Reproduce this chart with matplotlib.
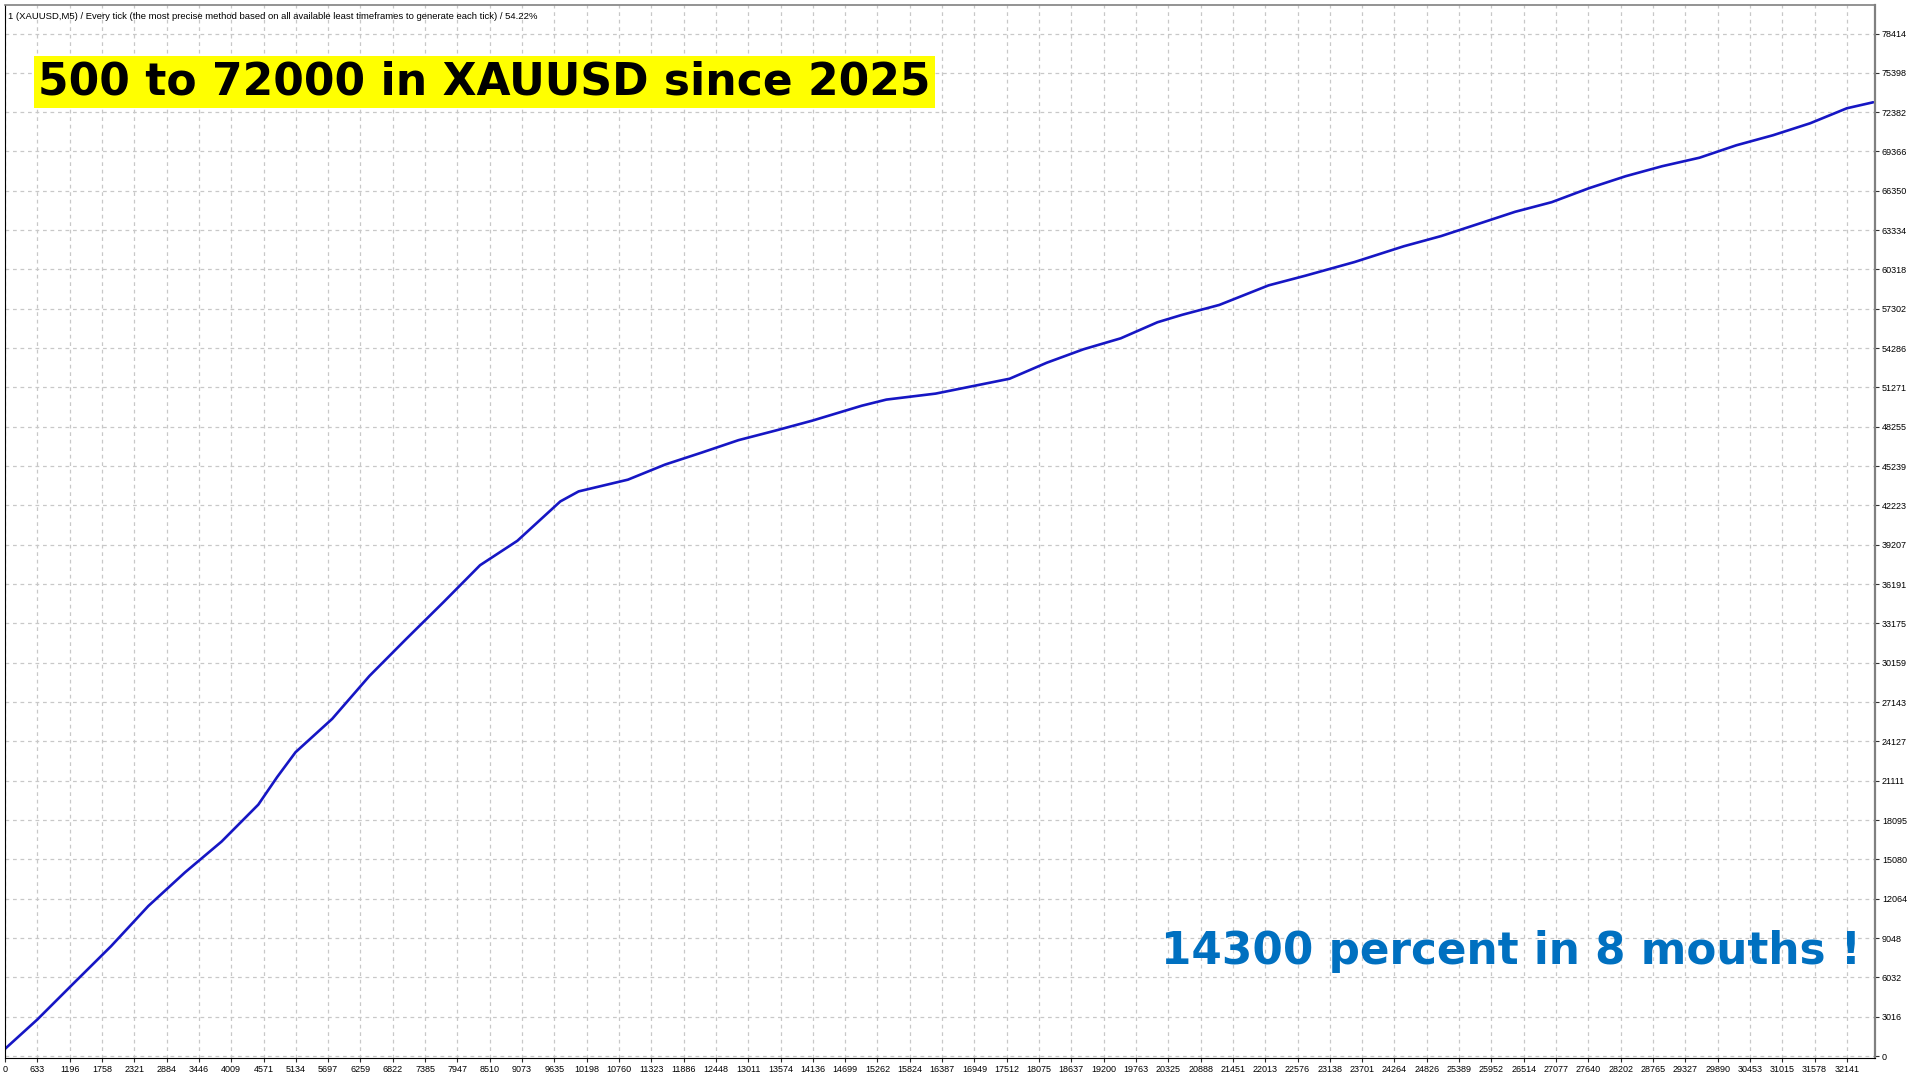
import numpy as np
import matplotlib.pyplot as plt

## Data (trade number vs balance)
trades = [0, 560, 1200, 1850, 2500, 3140, 3780, 4420, 4750, 5070, 5710, 6360,
          7000, 7650, 8290, 8940, 9690, 10010, 10870, 11520, 12160, 12800,
          13450, 14090, 14950, 15380, 16240, 17100, 17530, 18180, 18820,
          19470, 20110, 20540, 21190, 22050, 22690, 23550, 24410, 25060,
          25700, 26350, 26990, 27640, 28280, 28920, 29570, 30210, 30850,
          31500, 32140, 32600]
balance = [550, 2785, 5590, 8420, 11500, 14080, 16450, 19280, 21400, 23300,
           25860, 29150, 31980, 34800, 37640, 39510, 42530, 43300, 44200,
           45360, 46280, 47230, 47970, 48730, 49870, 50340, 50800, 51560,
           51940, 53170, 54200, 55040, 56270, 56840, 57600, 59100, 59840,
           60890, 62100, 62880, 63800, 64740, 65480, 66550, 67470, 68240,
           68890, 69840, 70610, 71530, 72680, 73140]

x_labels = ["0", "633", "1196", "1758", "2321", "2884", "3446", "4009", "4571",
            "5134", "5697", "6259", "6822", "7385", "7947", "8510", "9073",
            "9635", "10198", "10760", "11323", "11886", "12448", "13011",
            "13574", "14136", "14699", "15262", "15824", "16387", "16949",
            "17512", "18075", "18637", "19200", "19763", "20325", "20888",
            "21451", "22013", "22576", "23138", "23701", "24264", "24826",
            "25389", "25952", "26514", "27077", "27640", "28202", "28765",
            "29327", "29890", "30453", "31015", "31578", "32141"]
y_labels = ["0", "3016", "6032", "9048", "12064", "15080", "18095", "21111",
            "24127", "27143", "30159", "33175", "36191", "39207", "42223",
            "45239", "48255", "51271", "54286", "57302", "60318", "63334",
            "66350", "69366", "72382", "75398", "78414"]

header = ("1 (XAUUSD,M5) / Every tick (the most precise method based on all "
          "available least timeframes to generate each tick) / 54.22%")
title = "500 to 72000 in XAUUSD since 2025"
note = "14300 percent in 8 mouths !"

## Figure
fig = plt.figure(figsize=(19.2, 10.8), dpi=100)
ax = fig.add_axes([5 / 1920, 22 / 1080, 1870 / 1920, 1053 / 1080])

ax.plot(trades, balance, color="#1616c4", linewidth=1.9, solid_capstyle="round")

# MT4 style axis: ticks evenly spaced, labels from the report
xstep = int(x_labels[-1]) / (len(x_labels) - 1)
xpos = np.arange(len(x_labels)) * xstep
ypos = [int(v) for v in y_labels]
ax.set_xticks(xpos)
ax.set_xticklabels(x_labels)
ax.set_yticks(ypos)
ax.set_yticklabels(y_labels)
ax.set_xlim(0, int(x_labels[-1]) + 0.87 * xstep)
ax.set_ylim(-150, 80600)

ax.yaxis.tick_right()
ax.tick_params(axis="both", labelsize=6.5, length=3, width=0.8, color="#303030",
               labelcolor="#000000", pad=2)
for lab in ax.get_xticklabels() + ax.get_yticklabels():
    lab.set_family("Liberation Sans")

ax.grid(True, color="#c8c8c8", linestyle=(0, (3, 3)), linewidth=0.9)
ax.set_axisbelow(True)

ax.spines["left"].set_color("#000000")
ax.spines["bottom"].set_color("#000000")
ax.spines["top"].set_color("#808080")
ax.spines["right"].set_color("#808080")
ax.spines["right"].set_linewidth(1.6)
ax.spines["top"].set_linewidth(1.2)

ax.text(0.0015, 0.9935, header, transform=ax.transAxes, fontsize=6.8,
        family="Liberation Sans", va="top", ha="left", color="#000000")

ax.text(0.0176, 0.927, title, transform=ax.transAxes, fontsize=31.7,
        fontweight="bold", family="DejaVu Sans", va="center", ha="left",
        color="#000000",
        bbox=dict(boxstyle="square,pad=0.1", facecolor="#ffff00", edgecolor="none"))

ax.text(0.9925, 0.1015, note, transform=ax.transAxes, fontsize=31.5,
        fontweight="bold", family="DejaVu Sans", va="center", ha="right",
        color="#0070c0")

fig.savefig("out.png", dpi=100)
